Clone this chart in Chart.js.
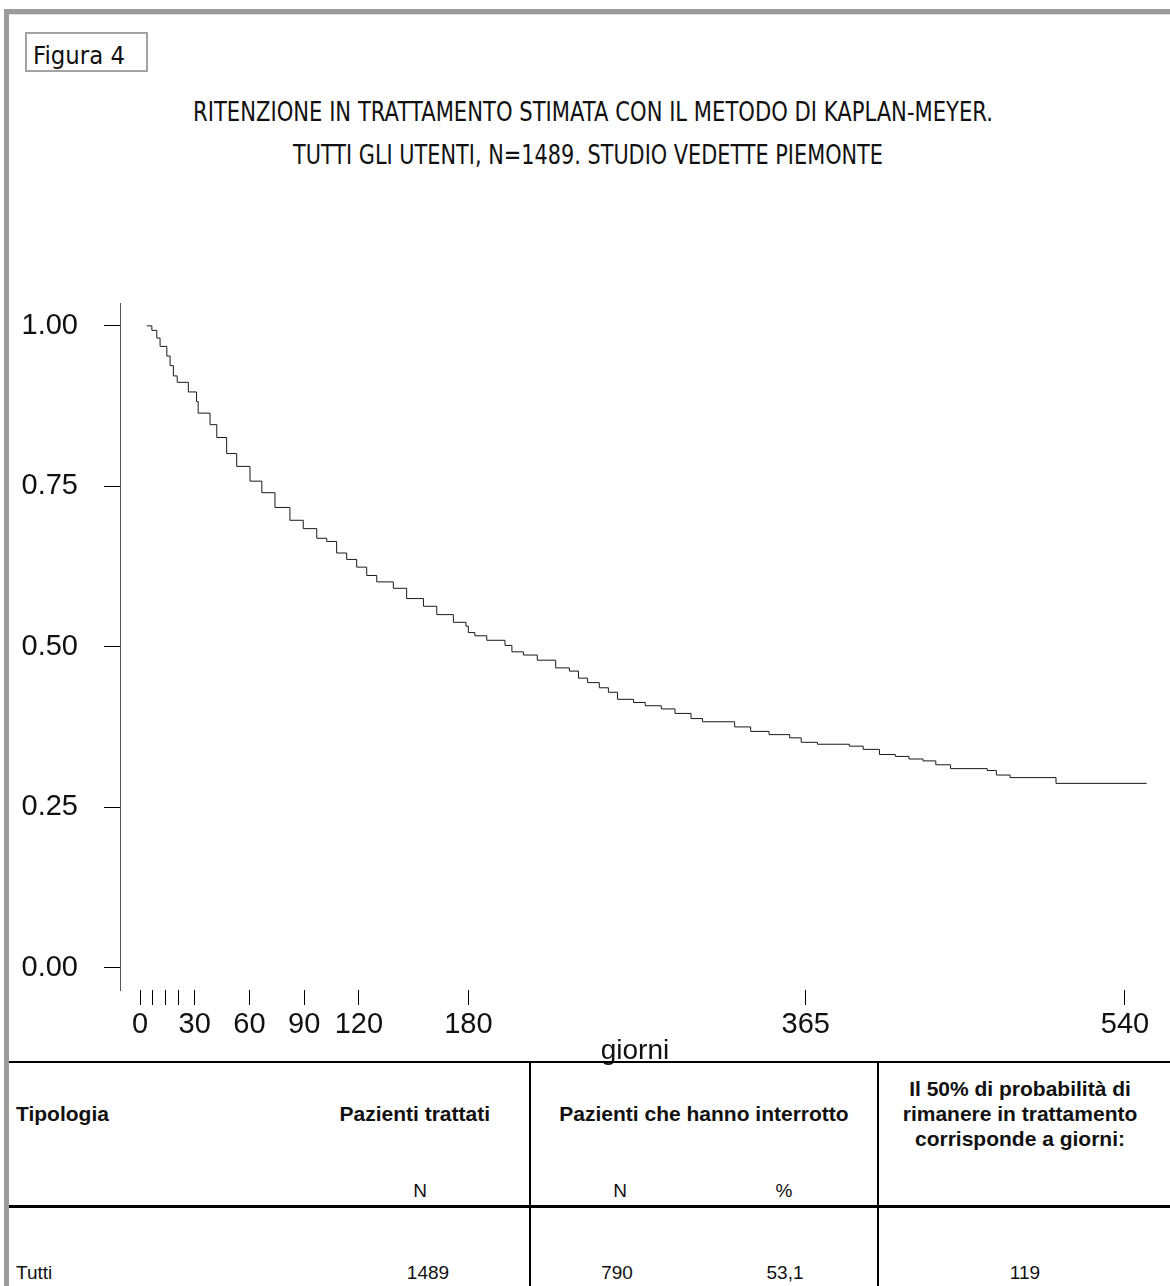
<!DOCTYPE html>
<html>
<head>
<meta charset="utf-8">
<script src="https://cdn.jsdelivr.net/npm/chart.js@4.4.1/dist/chart.umd.min.js"></script>
<style>
body { margin: 0; width: 1170px; height: 1286px; position: relative; overflow: hidden; background: #fff; font-family: "Liberation Sans", Arial, sans-serif; color: #111; }
#frameTop { position: absolute; left: 4px; top: 9px; width: 1166px; height: 5px; background: #9c9c9c; border-bottom: 1px solid #dcdcdc; }
#frameLeft { position: absolute; left: 4px; top: 9px; width: 5px; height: 1277px; background: #9c9c9c; }
#figBox { position: absolute; left: 25px; top: 32px; width: 119px; height: 36px; border: 2px solid #a3a3a3; }
.comic { position: absolute; white-space: nowrap; font-family: "DejaVu Sans", sans-serif; line-height: 1; }
.comic span { display: inline-block; transform-origin: left center; }
#chartWrap { position: absolute; left: 0; top: 260px; width: 1170px; height: 810px; }
.hl { position: absolute; left: 9px; width: 1161px; background: #000; }
.vl { position: absolute; top: 1062px; width: 2px; height: 224px; background: #000; }
.t { position: absolute; white-space: nowrap; line-height: 1; font-size: 19px; transform: translateY(-50%); }
.t.b { font-weight: bold; font-size: 21px; }
.t.c { transform: translate(-50%, -50%); }
.t.r { transform: translate(-100%, -50%); }
</style>
</head>
<body>
<div id="frameTop"></div>
<div id="frameLeft"></div>
<div id="figBox"></div>
<div class="comic" data-w="92" style="left:33px;top:44px;font-size:24px;"><span>Figura 4</span></div>
<div class="comic" data-w="800" style="left:193px;top:98px;font-size:27px;"><span>RITENZIONE IN TRATTAMENTO STIMATA CON IL METODO DI KAPLAN-MEYER.</span></div>
<div class="comic" data-w="590" style="left:293px;top:141px;font-size:27px;"><span>TUTTI GLI UTENTI, N=1489. STUDIO VEDETTE PIEMONTE</span></div>

<div id="chartWrap"><canvas id="km" width="1170" height="810"></canvas></div>

<div class="hl" style="top:1061px;height:2px;"></div>
<div class="hl" style="top:1205px;height:3px;"></div>
<div class="vl" style="left:529px;"></div>
<div class="vl" style="left:877px;"></div>

<div class="t b" style="left:16px;top:1113px;">Tipologia</div>
<div class="t b r" style="left:490px;top:1113px;">Pazienti trattati</div>
<div class="t b c" style="left:704px;top:1113px;">Pazienti che hanno interrotto</div>
<div class="t b c" style="left:1020px;top:1088px;">Il 50% di probabilità di</div>
<div class="t b c" style="left:1020px;top:1113px;">rimanere in trattamento</div>
<div class="t b c" style="left:1020px;top:1138px;">corrisponde a giorni:</div>
<div class="t c" style="left:420px;top:1190px;">N</div>
<div class="t c" style="left:620px;top:1190px;">N</div>
<div class="t c" style="left:784px;top:1190px;">%</div>
<div class="t" style="left:16px;top:1272px;">Tutti</div>
<div class="t c" style="left:428px;top:1272px;">1489</div>
<div class="t c" style="left:617px;top:1272px;">790</div>
<div class="t c" style="left:785px;top:1272px;">53,1</div>
<div class="t c" style="left:1025px;top:1272px;">119</div>

<script>
// giorni e probabilità di rimanere in trattamento
const days = [3.7, 6.5, 9.2, 11.0, 14.7, 16.5, 18.3, 20.4, 26.5, 31.0, 31.9, 38.4, 42.1, 47.5, 53.0, 60.3, 66.8, 74.0,
  82.2, 89.5, 96.9, 102.4, 107.8, 113.3, 118.8, 124.3, 129.8, 138.9, 146.2, 155.4, 162.7, 171.8, 178.7, 180.0, 183.6,
  190.1, 200.1, 203.9, 210.2, 217.8, 227.9, 235.4, 240.4, 245.4, 251.8, 256.8, 261.8, 270.6, 277.0, 285.8, 293.3,
  302.1, 308.4, 326.0, 334.8, 344.9, 356.2, 362.5, 371.4, 388.9, 396.5, 405.4, 414.1, 421.6, 429.3, 436.3, 444.4,
  464.5, 469.5, 477.0, 502.2, 551.9];
const survival = [1.000, 0.993, 0.981, 0.968, 0.953, 0.938, 0.922, 0.912, 0.897, 0.882, 0.864, 0.846, 0.826, 0.801,
  0.781, 0.758, 0.740, 0.717, 0.697, 0.684, 0.669, 0.664, 0.646, 0.636, 0.624, 0.611, 0.601, 0.591, 0.575, 0.563,
  0.550, 0.538, 0.532, 0.522, 0.517, 0.510, 0.502, 0.492, 0.487, 0.479, 0.467, 0.462, 0.451, 0.444, 0.436, 0.429,
  0.418, 0.413, 0.408, 0.403, 0.396, 0.388, 0.383, 0.375, 0.368, 0.363, 0.358, 0.351, 0.348, 0.345, 0.340, 0.332,
  0.329, 0.325, 0.322, 0.316, 0.310, 0.307, 0.300, 0.296, 0.287, 0.287];

const xTicks = [0, 7, 14, 21, 30, 60, 90, 120, 180, 365, 540];
const xLabels = ['0', '', '', '', '30', '60', '90', '120', '180', '365', '540'];
const yTicks = [0, 0.25, 0.5, 0.75, 1];
const yLabels = ['0.00', '0.25', '0.50', '0.75', '1.00'];

// stringe i testi "a mano" alla larghezza voluta
document.querySelectorAll('.comic').forEach(el => {
  const span = el.querySelector('span');
  const w = span.getBoundingClientRect().width;
  span.style.transform = `scaleX(${parseFloat(el.dataset.w) / w})`;
});

// giorno 0 a x=140, 1.824 px per giorno; asse y da 990 (sotto) a 286 (sopra)
const X0 = 140, PPD = 1.824;
const axisFont = { family: '"Liberation Sans", Arial, sans-serif', size: 29 };

new Chart(document.getElementById('km'), {
  type: 'line',
  data: {
    datasets: [{
      data: days.map((d, i) => ({ x: d, y: survival[i] })),
      borderColor: '#1a1a1a',
      borderWidth: 1,
      pointRadius: 0,
      stepped: true,
      fill: false,
      tension: 0
    }]
  },
  options: {
    responsive: false,
    animation: false,
    events: [],
    layout: { padding: { top: 26, right: 20, left: 0, bottom: 0 } },
    plugins: { legend: { display: false }, tooltip: { enabled: false } },
    scales: {
      x: {
        type: 'linear',
        min: (120 - X0) / PPD,
        max: (1150 - X0) / PPD,
        afterBuildTicks: scale => { scale.ticks = xTicks.map(v => ({ value: v })); },
        afterFit: scale => { scale.height = 80; },
        ticks: {
          autoSkip: false, maxRotation: 0, padding: 3, color: '#111', font: axisFont,
          callback: (v, i) => xLabels[i]
        },
        grid: { drawOnChartArea: false, drawTicks: true, tickLength: 15, color: '#000' },
        border: { display: false },
        title: { display: true, text: 'giorni', color: '#111', font: { family: axisFont.family, size: 28 }, padding: { top: 0, bottom: 2 } }
      },
      y: {
        min: -0.035,
        max: 1.035,
        afterBuildTicks: scale => { scale.ticks = yTicks.map(v => ({ value: v })); },
        afterFit: scale => { scale.width = 120; },
        ticks: { padding: 26, color: '#111', font: axisFont, callback: (v, i) => yLabels[i] },
        grid: { drawOnChartArea: false, drawTicks: true, tickLength: 16, color: '#000' },
        border: { display: true, color: '#555', width: 1 }
      }
    }
  }
});
</script>
</body>
</html>
